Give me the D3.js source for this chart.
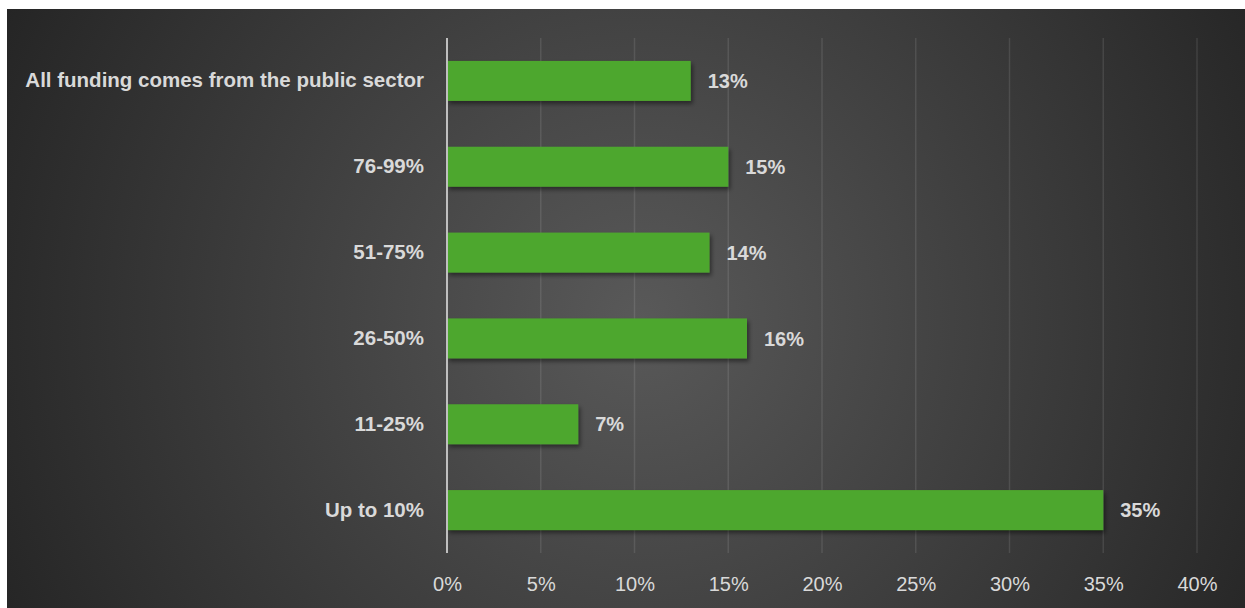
<!DOCTYPE html>
<html>
<head>
<meta charset="utf-8">
<script src="https://cdn.jsdelivr.net/npm/d3@7"></script>
<style>
  html, body { margin: 0; padding: 0; background: #ffffff; }
  svg { display: block; }
</style>
</head>
<body>
<svg id="chart" width="1245" height="608"></svg>
<script>
// Share of funding from the public sector (top to bottom)
const categories = [
  "All funding comes from the public sector",
  "76-99%",
  "51-75%",
  "26-50%",
  "11-25%",
  "Up to 10%"
];
const shares = [0.13, 0.15, 0.14, 0.16, 0.07, 0.35];
const tickValues = [0, 0.05, 0.10, 0.15, 0.20, 0.25, 0.30, 0.35, 0.40];

const W = 1245, H = 608;
const panel = { x: 7, y: 9, w: W - 7, h: H - 9 };
const plot = { left: 447, right: 1197, top: 38, bottom: 553 };

const svg = d3.select("#chart");
const defs = svg.append("defs");

const grad = defs.append("radialGradient")
  .attr("id", "bg")
  .attr("gradientUnits", "userSpaceOnUse")
  .attr("cx", 640).attr("cy", 320).attr("r", 720);
grad.append("stop").attr("offset", "0%").attr("stop-color", "#595959");
grad.append("stop").attr("offset", "100%").attr("stop-color", "#242424");

const shadow = defs.append("filter").attr("id", "barShadow")
  .attr("x", "-5%").attr("y", "-20%").attr("width", "115%").attr("height", "160%");
shadow.append("feDropShadow")
  .attr("dx", 2).attr("dy", 3).attr("stdDeviation", 2)
  .attr("flood-color", "#000").attr("flood-opacity", 0.45);

svg.append("rect")
  .attr("x", panel.x).attr("y", panel.y)
  .attr("width", panel.w).attr("height", panel.h)
  .attr("fill", "url(#bg)");

const x = d3.scaleLinear().domain([0, 0.40]).range([plot.left, plot.right]);
const y = d3.scaleBand().domain(categories)
  .range([plot.top, plot.bottom])
  .paddingInner(0.534).paddingOuter(0.267);

// vertical gridlines
svg.append("g")
  .selectAll("line")
  .data(tickValues.filter(d => d > 0))
  .join("line")
  .attr("x1", d => x(d)).attr("x2", d => x(d))
  .attr("y1", plot.top).attr("y2", plot.bottom)
  .attr("stroke", "rgba(255,255,255,0.1)")
  .attr("stroke-width", 1.5);

// x axis tick labels
const xAxis = d3.axisBottom(x)
  .tickValues(tickValues)
  .tickFormat(d3.format(".0%"))
  .tickSize(0)
  .tickPadding(0);
const gx = svg.append("g")
  .attr("transform", `translate(0, ${plot.bottom})`)
  .call(xAxis);
gx.select(".domain").remove();
gx.selectAll("text")
  .attr("dy", 0).attr("y", 38)
  .attr("fill", "#d9d9d9")
  .attr("font-family", "'Liberation Sans', Arial, sans-serif")
  .attr("font-size", 20);

// bars
svg.append("g")
  .selectAll("rect")
  .data(categories.map((c, i) => ({ c, v: shares[i] })))
  .join("rect")
  .attr("x", x(0))
  .attr("y", d => y(d.c))
  .attr("width", d => x(d.v) - x(0))
  .attr("height", y.bandwidth())
  .attr("fill", "#4ea72e")
  .attr("filter", "url(#barShadow)");

// value labels
svg.append("g")
  .selectAll("text")
  .data(categories.map((c, i) => ({ c, v: shares[i] })))
  .join("text")
  .attr("x", d => x(d.v) + 17)
  .attr("y", d => y(d.c) + y.bandwidth() / 2)
  .attr("dy", "0.36em")
  .attr("fill", "#d9d9d9")
  .attr("font-family", "'Liberation Sans', Arial, sans-serif")
  .attr("font-weight", "bold")
  .attr("font-size", 20)
  .text(d => d3.format(".0%")(d.v));

// category axis
const yAxis = d3.axisLeft(y).tickSize(0).tickPadding(23);
const gy = svg.append("g")
  .attr("transform", `translate(${plot.left}, 0)`)
  .call(yAxis);
gy.select(".domain").remove();
gy.selectAll("text")
  .attr("fill", "#d9d9d9")
  .attr("font-family", "'Liberation Sans', Arial, sans-serif")
  .attr("font-weight", "bold")
  .attr("font-size", 20.5);

svg.append("line")
  .attr("x1", plot.left).attr("x2", plot.left)
  .attr("y1", plot.top).attr("y2", plot.bottom)
  .attr("stroke", "#bfbfbf")
  .attr("stroke-width", 2);
</script>
</body>
</html>
